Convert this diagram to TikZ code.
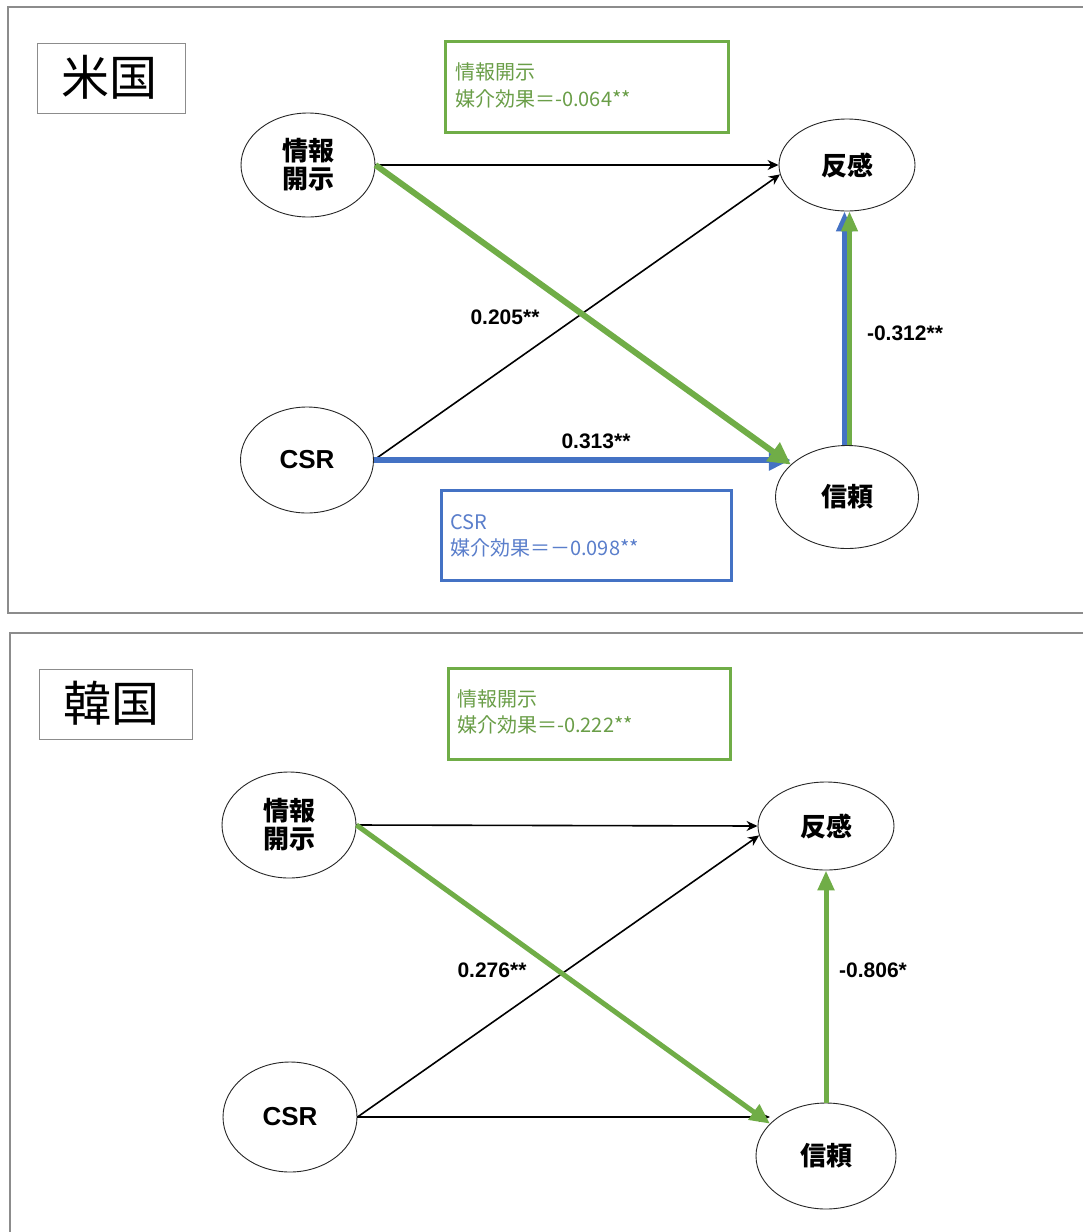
\documentclass[tikz,border=0pt]{standalone}
\usepackage{fontspec}
\setmainfont{Liberation Sans}
\newfontfamily\cjk{Noto Sans CJK JP}
\usetikzlibrary{shapes.geometric,arrows.meta}
\definecolor{cgreen}{HTML}{70AD47}
\definecolor{cblue}{HTML}{4472C4}
\definecolor{cgreentxt}{HTML}{6A9E48}
\definecolor{cbluetxt}{HTML}{5A7ECB}
\definecolor{panelgray}{HTML}{8C8C8C}
\begin{document}
\begin{tikzpicture}[x=1pt,y=-1pt,
  panel/.style={draw=panelgray,line width=2pt},
  tagbox/.style={draw=black!45,line width=0.8pt},
  tagtext/.style={font=\cjk\fontsize{48}{52}\selectfont},
  var/.style={ellipse,draw=black!85,line width=0.9pt,inner sep=0pt,align=center,
    font=\cjk\bfseries\fontsize{26}{28}\selectfont},
  plainarrow/.style={draw=black,line width=1.6pt,-{Stealth[length=11pt,width=10pt]}},
  garrow/.style={draw=cgreen,line width=6pt,-{Triangle[length=22pt,width=22pt]}},
  barrow/.style={draw=cblue,line width=6pt,-{Triangle[length=22pt,width=20pt]}},
  coef/.style={font=\bfseries\fontsize{21}{23}\selectfont},
  effbox/.style={line width=3pt},
  efftext/.style={anchor=base west,inner sep=0pt,font=\cjk\fontsize{20}{22}\selectfont},
]
\useasboundingbox (0,0) rectangle (1083,1232);
\fill[white] (0,0) rectangle (1083,1232);
\clip (0,0) rectangle (1083,1232);

% ---------------- top panel (US)
\draw[panel] (8,7) rectangle (1110,613);
\draw[tagbox] (37,43) rectangle (185,113);
\node[tagtext] (usTag) at (109,77) {米国};

\draw[effbox,draw=cgreen] (445,41) rectangle (728,132);
\node[efftext,text=cgreentxt] (usG1) at (455,79) {情報開示};
\node[efftext,text=cgreentxt] (usG2) at (455,106) {媒介効果＝-0.064**};

\draw[effbox,draw=cblue] (441,490) rectangle (731,580);
\node[efftext,text=cbluetxt] (usB1) at (450,529) {CSR};
\node[efftext,text=cbluetxt] (usB2) at (450,555) {媒介効果＝－0.098**};

\node[var,minimum width=134pt,minimum height=104pt] (uI) at (308,165) {情報\\開示};
\node[var,minimum width=136pt,minimum height=92pt] (uH) at (847,165) {反感};
\node[var,minimum width=133pt,minimum height=106pt,font=\bfseries\fontsize{26}{28}\selectfont] (uC) at (307,460) {CSR};
\node[var,minimum width=143pt,minimum height=103pt] (uS) at (847,497) {信頼};

\draw[plainarrow] (uI.east) -- (uH.west);
\draw[plainarrow] (uC.east) -- (uH.188);
\draw[barrow] (uC.east) -- (uC.east -| uS.150);
\draw[garrow] (uI.east) -- (uS.150);
\draw[barrow,line width=4.5pt,-{Triangle[length=20pt,width=16pt]}] ([xshift=-2.5pt]uS.north) -- ([xshift=-2.5pt]uH.south);
\draw[garrow,line width=4.5pt,-{Triangle[length=20pt,width=16pt]}] ([xshift=2.5pt]uS.north) -- ([xshift=2.5pt]uH.south);

\node[coef] (uL1) at (505,317) {0.205**};
\node[coef] (uL2) at (596,441) {0.313**};
\node[coef] (uL3) at (905,333) {-0.312**};

% ---------------- bottom panel (Korea)
\draw[panel] (10,633) rectangle (1110,1280);
\draw[tagbox] (39,669) rectangle (192,739);
\node[tagtext] (krTag) at (111,703) {韓国};

\draw[effbox,draw=cgreen] (448,668) rectangle (730,759);
\node[efftext,text=cgreentxt] (krG1) at (457,706) {情報開示};
\node[efftext,text=cgreentxt] (krG2) at (457,732) {媒介効果＝-0.222**};

\node[var,minimum width=134pt,minimum height=106pt] (kI) at (289,825) {情報\\開示};
\node[var,minimum width=136pt,minimum height=88pt] (kH) at (826,826) {反感};
\node[var,minimum width=134pt,minimum height=110pt,font=\bfseries\fontsize{26}{28}\selectfont] (kC) at (290,1117) {CSR};
\node[var,minimum width=140pt,minimum height=106pt] (kS) at (826,1156) {信頼};

\draw[plainarrow] (kI.east) -- (kH.west);
\draw[plainarrow] (kC.east) -- (kH.188);
\draw[plainarrow] (kC.east) -- (kC.east -| kS.150);
\draw[garrow,line width=5pt,-{Triangle[length=20pt,width=18pt]}] (kI.east) -- (kS.150);
\draw[garrow,line width=5pt,-{Triangle[length=20pt,width=16pt]}] (kS.north) -- (kH.south);

\node[coef] (kL1) at (492,970) {0.276**};
\node[coef] (kL2) at (873,970) {-0.806*};
\end{tikzpicture}
\end{document}
